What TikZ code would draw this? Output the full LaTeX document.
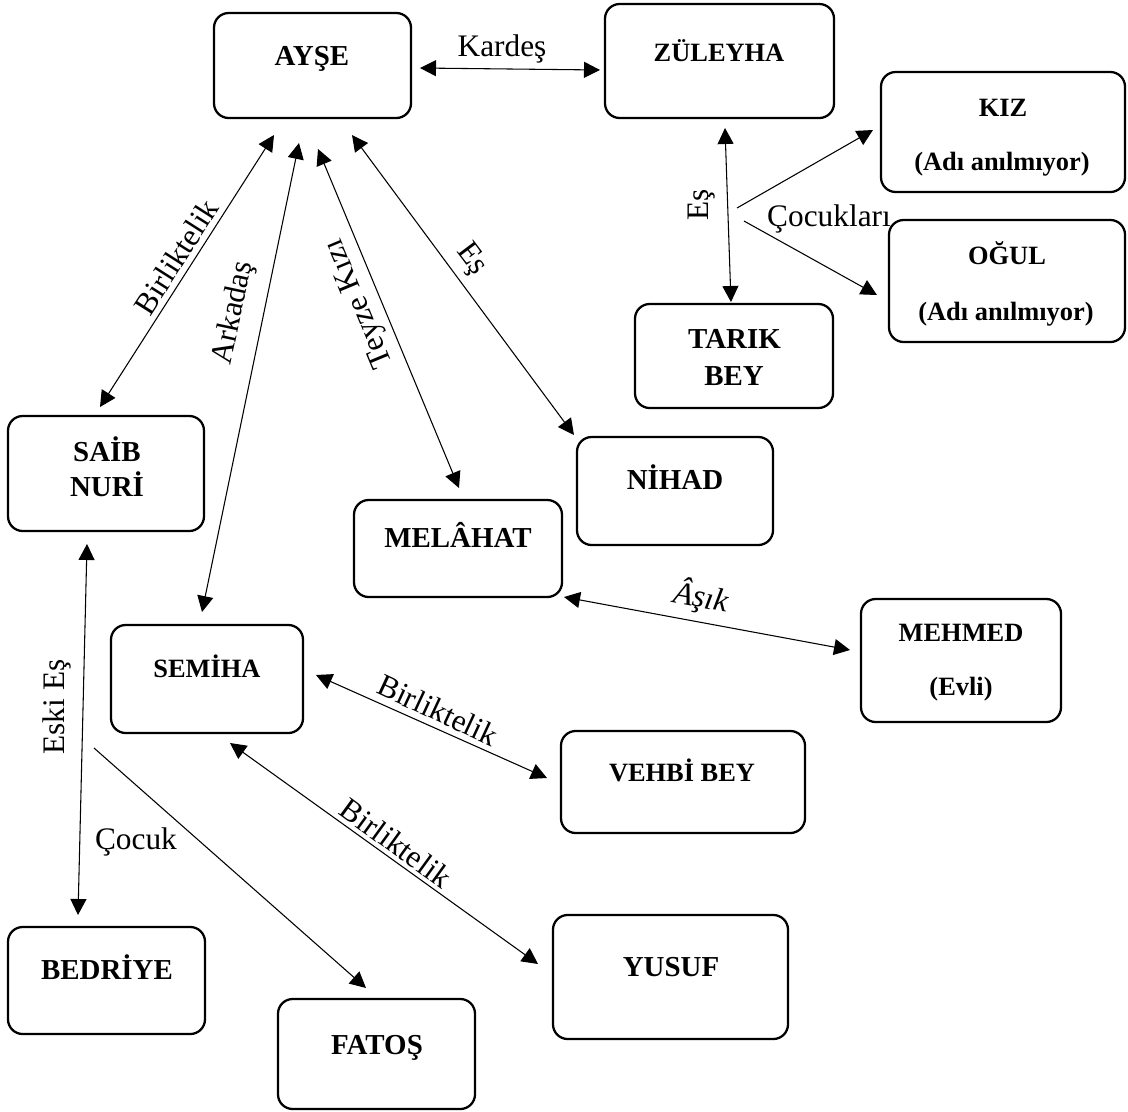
\documentclass[tikz,border=0pt]{standalone}
\usepackage{fontspec}
\setmainfont{Liberation Serif}
\usetikzlibrary{arrows.meta}
\newcommand\pbx[5]{\node[pbox,minimum width=#4*0.75pt,minimum height=#5*0.75pt] (#1) at (#2,#3) {};}
\begin{document}
\begin{tikzpicture}[x=0.75pt,y=-0.75pt,
 pbox/.style={draw, line width=1.7pt, rounded corners=11pt, inner sep=0pt},
 nm/.style={font=\bfseries\fontsize{21.7}{26}\selectfont, anchor=base, inner sep=0pt},
 nms/.style={font=\bfseries\fontsize{19.8}{24}\selectfont, anchor=base, inner sep=0pt},
 lbl/.style={font=\fontsize{23.5}{28}\selectfont, inner sep=0pt},
 rel/.style={line width=0.8pt, {Triangle[length=12pt,width=12pt]}-{Triangle[length=12pt,width=12pt]}},
 one/.style={line width=0.8pt, -{Triangle[length=12pt,width=12pt]}}]
\useasboundingbox (0,0) rectangle (1128,1111);
% boxes
\pbx{ayse}{312.5}{65.5}{197}{105}
\pbx{zul}{719.5}{61}{229}{114}
\pbx{kiz}{1003}{132}{244}{120}
\pbx{ogul}{1007}{281}{236}{122}
\pbx{tarik}{734}{356}{198}{104}
\pbx{saib}{106}{473.5}{196}{115}
\pbx{nihad}{675}{491}{196}{108}
\pbx{melahat}{458}{548.5}{208}{97}
\pbx{semiha}{207}{679}{192}{108}
\pbx{mehmed}{961}{660.5}{200}{123}
\pbx{vehbi}{683}{782}{244}{102}
\pbx{bedriye}{106.5}{980.5}{197}{107}
\pbx{fatos}{376.5}{1054}{197}{110}
\pbx{yusuf}{670.5}{977}{235}{124}
% names
\node[nm] (tAyse) at (312,65) {AYŞE};
\node[nms] (tZul) at (719,61) {ZÜLEYHA};
\node[nms] (tKiz) at (1003,116) {KIZ};
\node[nms] (tKiz2) at (1002,170) {(Adı anılmıyor)};
\node[nms] (tOgul) at (1007,264) {OĞUL};
\node[nms] (tOgul2) at (1006,320) {(Adı anılmıyor)};
\node[nm] (tTarik) at (734.5,348) {TARIK};
\node[nm] (tBey) at (734,385) {BEY};
\node[nm] (tSaib) at (107,461) {SAİB};
\node[nm] (tNuri) at (107,496) {NURİ};
\node[nm] (tNihad) at (675,489) {NİHAD};
\node[nm] (tMel) at (458,547) {MELÂHAT};
\node[nms] (tSem) at (207,677) {SEMİHA};
\node[nms] (tMeh) at (961,641) {MEHMED};
\node[nms] (tEvli) at (961,695) {(Evli)};
\node[nms] (tVeh) at (682,781) {VEHBİ BEY};
\node[nm] (tBed) at (107,979) {BEDRİYE};
\node[nm] (tFat) at (377,1054) {FATOŞ};
\node[nm] (tYus) at (671,976) {YUSUF};
% connector ends
\coordinate (k1) at (420,68);  \coordinate (k2) at (600,70);
\coordinate (b1) at (274,135); \coordinate (b2) at (100,407);
\coordinate (r1) at (299,143); \coordinate (r2) at (202,612);
\coordinate (t1) at (318,149); \coordinate (t2) at (459,488);
\coordinate (e1) at (352,135); \coordinate (e2) at (574,435);
\coordinate (z1) at (725,128); \coordinate (z2) at (731,302);
\coordinate (c1) at (737,208); \coordinate (c2) at (873,130);
\coordinate (c3) at (744,221); \coordinate (c4) at (877,295);
\coordinate (s1) at (564,597); \coordinate (s2) at (850,650);
\coordinate (v1) at (316,675); \coordinate (v2) at (547,778);
\coordinate (y1) at (230,743); \coordinate (y2) at (538,964);
\coordinate (x1) at (87,544);  \coordinate (x2) at (78,915);
\coordinate (f1) at (94,748);  \coordinate (f2) at (366,988);
% connectors
\draw[rel] (k1) -- (k2);
\draw[rel] (b1) -- (b2);
\draw[rel] (r1) -- (r2);
\draw[rel] (t1) -- (t2);
\draw[rel] (e1) -- (e2);
\draw[rel] (z1) -- (z2);
\draw[one] (c1) -- (c2);
\draw[one] (c3) -- (c4);
\draw[rel] (s1) -- (s2);
\draw[rel] (v1) -- (v2);
\draw[rel] (y1) -- (y2);
\draw[rel] (x1) -- (x2);
\draw[one] (f1) -- (f2);
% labels
\node[lbl, anchor=base] (lKardes) at (502,56) {Kardeş};
\node[lbl, rotate=57.5] (lBir1) at (176,257) {Birliktelik};
\node[lbl, rotate=78] (lArk) at (234,313) {Arkadaş};
\node[lbl, rotate=112.5] (lTey) at (360,303) {Teyze Kızı};
\node[lbl, rotate=-53] (lEs1) at (471,260) {Eş};
\node[lbl, rotate=90] (lEs2) at (702,205) {Eş};
\node[lbl, anchor=base] (lCoc) at (829,226) {Çocukları};
\node[lbl, font=\itshape\fontsize{24}{28}\selectfont, rotate=-10.5] (lAsik) at (701,597) {Âşık};
\node[lbl, rotate=-25] (lBir2) at (438,710) {Birliktelik};
\node[lbl, rotate=-36] (lBir3) at (396,843) {Birliktelik};
\node[lbl, rotate=90] (lEski) at (57,707) {Eski Eş};
\node[lbl] (lCocuk) at (136,842) {Çocuk};
\end{tikzpicture}
\end{document}
